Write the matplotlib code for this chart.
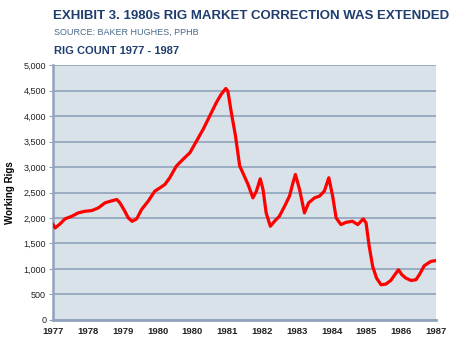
import numpy as np
import matplotlib
matplotlib.use("Agg")
import matplotlib.pyplot as plt

plt.rcParams['font.family'] = ['Liberation Sans', 'DejaVu Sans']

# x axis is categorical-looking: 12 labels spaced evenly (1980 appears twice in the source)
tick_labels = ['1977', '1978', '1979', '1980', '1980', '1981',
               '1982', '1983', '1984', '1985', '1986', '1987']

# traced curve: position along the tick axis (0..11) and rig count
pos = [0.00, 0.06, 0.20, 0.34, 0.54, 0.72, 0.92, 1.11, 1.30, 1.49, 1.68, 1.83,
       1.92, 2.06, 2.16, 2.27, 2.40, 2.54, 2.73, 2.92, 3.07, 3.21, 3.35, 3.54,
       3.73, 3.93, 4.12, 4.31, 4.50, 4.69, 4.83, 4.96, 5.02, 5.12, 5.24, 5.36,
       5.45, 5.60, 5.74, 5.84, 5.95, 6.03, 6.12, 6.24, 6.36, 6.50, 6.65, 6.79,
       6.89, 6.96, 7.08, 7.22, 7.34, 7.51, 7.65, 7.79, 7.92, 8.03, 8.13, 8.27,
       8.42, 8.60, 8.75, 8.91, 8.99, 9.08, 9.18, 9.29, 9.42, 9.56, 9.70, 9.85,
       9.92, 10.02, 10.13, 10.28, 10.42, 10.52, 10.66, 10.85, 10.97]
rigs = [1870, 1805, 1884, 1982, 2035, 2100, 2132, 2145, 2198, 2297, 2336, 2362,
        2297, 2132, 2001, 1935, 1982, 2165, 2329, 2526, 2592, 2657, 2789, 3018,
        3150, 3281, 3510, 3740, 4002, 4266, 4429, 4541, 4490, 4068, 3608, 3018,
        2887, 2657, 2395, 2526, 2769, 2559, 2100, 1837, 1935, 2035, 2231, 2428,
        2690, 2854, 2559, 2100, 2297, 2395, 2428, 2526, 2789, 2428, 2001, 1870,
        1916, 1935, 1870, 1982, 1903, 1443, 1049, 821, 689, 703, 774, 919,
        984, 886, 821, 774, 787, 886, 1063, 1148, 1161]

yticks = np.arange(0, 5001, 500)

navy = '#1F3E6E'
grid_c = '#8FA3BC'

fig = plt.figure(figsize=(4.5, 3.5), dpi=100)
ax = fig.add_axes([0.118, 0.086, 0.851, 0.728])
ax.set_facecolor('#D9E1E9')

ax.plot(pos, rigs, color='#FF0000', lw=2.3, solid_joinstyle='round', zorder=3)

ax.set_xlim(0, 11)
ax.set_ylim(0, 5000)
ax.set_yticks(yticks)
ax.set_yticklabels([f'{v:,}' for v in yticks])
ax.set_xticks(range(len(tick_labels)))
ax.set_xticklabels(tick_labels)

ax.grid(axis='y', color=grid_c, lw=1.2)
ax.set_axisbelow(True)
for s in ['top', 'right']:
    ax.spines[s].set_visible(False)
ax.spines['left'].set_color(grid_c)
ax.spines['left'].set_linewidth(1.8)
ax.spines['bottom'].set_color(grid_c)
ax.spines['bottom'].set_linewidth(2.0)

ax.tick_params(axis='y', length=3, color=grid_c, labelsize=6.5, labelcolor='#222222', pad=2)
ax.tick_params(axis='x', length=0, labelsize=6.8, labelcolor='#222222', pad=5)
for lbl in ax.get_xticklabels():
    lbl.set_fontweight('bold')

ax.set_ylabel('Working Rigs', fontsize=7, fontweight='bold', labelpad=6)

fig.text(0.118, 0.955, 'EXHIBIT 3. 1980s RIG MARKET CORRECTION WAS EXTENDED',
         fontsize=9.5, fontweight='bold', color=navy, va='center')
fig.text(0.12, 0.908, 'SOURCE: BAKER HUGHES, PPHB',
         fontsize=6.5, color='#4A6A8C', va='center')
fig.text(0.12, 0.855, 'RIG COUNT 1977 - 1987',
         fontsize=8, fontweight='bold', color=navy, va='center')

fig.savefig('out.png', dpi=100)
